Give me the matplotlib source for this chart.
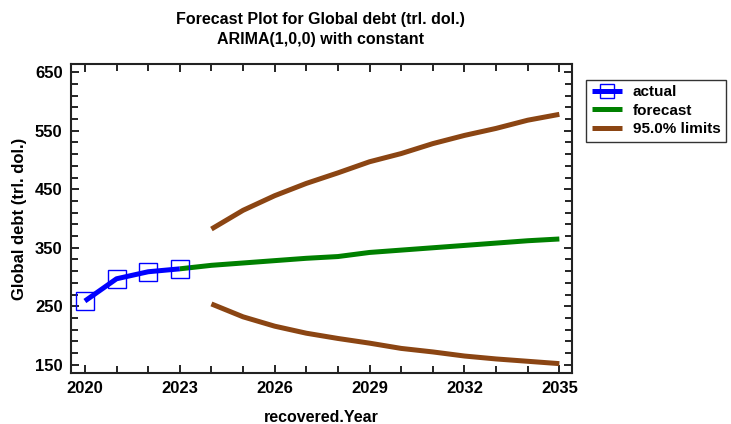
import matplotlib
matplotlib.use("Agg")
import matplotlib.pyplot as plt
from matplotlib.ticker import FixedLocator

plt.rcParams['font.family'] = ['Liberation Sans', 'DejaVu Sans']
plt.rcParams['font.weight'] = 'bold'

actual_years = [2020, 2021, 2022, 2023]
actual_vals = [259, 297, 309, 314]
fc_years = [2023, 2024, 2025, 2026, 2027, 2028, 2029, 2030, 2031, 2032, 2033, 2034, 2035]
fc_vals = [314, 320, 324, 328, 332, 335, 342, 346, 350, 354, 358, 362, 365]
lim_years = [2024, 2025, 2026, 2027, 2028, 2029, 2030, 2031, 2032, 2033, 2034, 2035]
upper_vals = [382, 414, 439, 460, 478, 497, 511, 528, 542, 554, 568, 578]
lower_vals = [254, 232, 216, 204, 195, 187, 178, 172, 165, 160, 156, 152]
x_ticks = [2020, 2023, 2026, 2029, 2032, 2035]
y_ticks = [150, 250, 350, 450, 550, 650]

fig = plt.figure(figsize=(7.31, 4.24), dpi=100)
ax = fig.add_axes([0.0971, 0.1203, 0.6854, 0.7287])

ax.plot(lim_years, upper_vals, color='#8B4513', lw=3.6, solid_capstyle='butt', label='95.0% limits', zorder=2)
ax.plot(lim_years, lower_vals, color='#8B4513', lw=3.6, solid_capstyle='butt', zorder=2)
ax.plot(fc_years, fc_vals, color='#008000', lw=3.6, solid_capstyle='butt', label='forecast', zorder=3)
ax.plot(actual_years, actual_vals, color='#0000FF', lw=3.6, marker='s', markersize=12.5,
        markerfacecolor='none', markeredgecolor='#0000FF', markeredgewidth=1.0,
        solid_capstyle='butt', label='actual', zorder=4)

ax.set_xlim(2019.56, 2035.4)
ax.set_ylim(136, 664)
ax.xaxis.set_major_locator(FixedLocator(x_ticks))
ax.xaxis.set_minor_locator(FixedLocator(list(range(2020, 2036))))
ax.yaxis.set_major_locator(FixedLocator(y_ticks))
ax.yaxis.set_minor_locator(FixedLocator(list(range(150, 661, 20))))
ax.tick_params(which='both', direction='in', top=True, right=True, labelsize=12, width=1.2)
ax.tick_params(which='major', length=6, pad=6)
ax.tick_params(which='minor', length=5)
for lbl in ax.get_xticklabels() + ax.get_yticklabels():
    lbl.set_fontweight('bold')
for s in ax.spines.values():
    s.set_linewidth(1.5)
    s.set_color('#222222')

ax.set_xlabel('recovered.Year', fontsize=11.5, fontweight='bold', labelpad=10)
ax.set_ylabel('Global debt (trl. dol.)', fontsize=12, fontweight='bold', labelpad=6)
fig.text(0.438, 0.955, 'Forecast Plot for Global debt (trl. dol.)', ha='center', va='center', fontsize=11.5, fontweight='bold')
fig.text(0.438, 0.906, 'ARIMA(1,0,0) with constant', ha='center', va='center', fontsize=11.5, fontweight='bold')

h, l = ax.get_legend_handles_labels()
order = [2, 1, 0]
leg = fig.legend([h[i] for i in order], [l[i] for i in order], loc='upper left',
                 bbox_to_anchor=(0.802, 0.812), fontsize=11, frameon=True, fancybox=False,
                 edgecolor='black', handlelength=2.0, borderpad=0.35, labelspacing=0.3,
                 handletextpad=0.7, borderaxespad=0, markerscale=0.85)
leg.get_frame().set_linewidth(1.0)
for t in leg.get_texts():
    t.set_fontweight('bold')

fig.savefig('out.png', dpi=100)
